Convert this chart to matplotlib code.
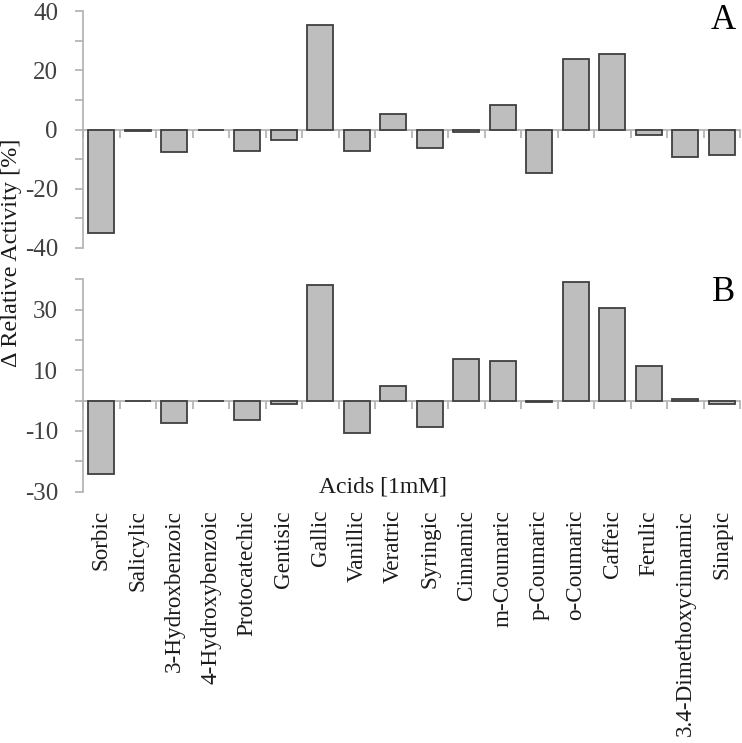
import matplotlib
matplotlib.use("Agg")
import matplotlib.pyplot as plt
import matplotlib.transforms as mtransforms
from matplotlib.ticker import MultipleLocator, FixedLocator

plt.rcParams['font.family'] = ['Liberation Serif', 'DejaVu Serif']
plt.rcParams['axes.unicode_minus'] = False

acids = ["Sorbic", "Salicylic", "3-Hydroxbenzoic", "4-Hydroxybenzoic",
         "Protocatechic", "Gentisic", "Gallic", "Vanillic", "Veratric",
         "Syringic", "Cinnamic", "m-Coumaric", "p-Coumaric", "o-Coumaric",
         "Caffeic", "Ferulic", "3.4-Dimethoxycinnamic", "Sinapic"]

# panel A
act_a = [-35.1, -0.5, -7.6, 0.0, -7.1, -3.5, 35.2, -7.3, 5.4,
         -6.2, -0.9, 8.4, -14.7, 23.8, 25.6, -1.9, -9.3, -8.6]
# panel B
act_b = [-24.1, -0.3, -7.5, 0.0, -6.3, -1.0, 38.0, -10.8, 4.9,
         -8.8, 13.8, 13.2, -0.5, 39.1, 30.5, 11.5, 0.5, -1.2]

bar_fill = '#bebebe'
bar_edge = '#3f3f3f'
axis_col = '#b0b0b0'
text_col = '#404040'

fig = plt.figure(figsize=(7.42, 7.43), dpi=100)
W, H = 742, 743
left, right = 83 / W, 740 / W
ax1 = fig.add_axes([left, 1 - 248 / H, right - left, (248 - 11) / H])
ax2 = fig.add_axes([left, 1 - 491.5 / H, right - left, (491.5 - 279.3) / H])

x = list(range(len(acids)))


def style(ax, vals, lo, hi, major0, letter, ly):
    ax.bar(x, vals, width=0.70, color=bar_fill, edgecolor=bar_edge,
           linewidth=1.3, zorder=3)
    ax.set_xlim(-0.5, len(acids) - 0.5)
    ax.set_ylim(lo, hi)
    for s in ['top', 'right']:
        ax.spines[s].set_visible(False)
    ax.spines['bottom'].set_position(('data', 0))
    ax.spines['bottom'].set_color(axis_col)
    ax.spines['left'].set_color(axis_col)
    ax.spines['bottom'].set_linewidth(1.2)
    ax.spines['left'].set_linewidth(1.2)
    ax.spines['bottom'].set_zorder(1)
    ax.xaxis.set_major_locator(FixedLocator([i - 0.5 for i in range(len(acids) + 1)]))
    ax.tick_params(axis='x', which='major', direction='out', length=6,
                   color=axis_col, width=1.2, labelbottom=False)
    ax.yaxis.set_major_locator(FixedLocator(list(range(major0, hi + 1, 20))))
    ax.yaxis.set_minor_locator(MultipleLocator(10))
    ax.tick_params(axis='y', which='both', direction='out', length=6,
                   color=axis_col, width=1.2, labelsize=18, labelcolor=text_col,
                   pad=12)
    ax.text(0.975, ly, letter, transform=ax.transAxes,
            ha='center', va='center', fontsize=25, color='black')


style(ax1, act_a, -40, 40, -40, 'A', 0.962)
style(ax2, act_b, -30, 40, -30, 'B', 0.94)

trans = mtransforms.blended_transform_factory(ax2.transData, fig.transFigure)
for i, name in enumerate(acids):
    ax2.text(i, 1 - 510 / H, name, transform=trans, rotation=90,
             ha='center', va='top', fontsize=16.7, color='#1a1a1a')

fig.text(383 / W, 1 - 487 / H, "Acids [1mM]", ha='center', va='center',
         fontsize=17, color='#1a1a1a')
fig.text(12 / W, 1 - 253 / H, "\u0394 Relative Activity [%]", rotation=90,
         ha='center', va='center', fontsize=17.5, color='#1a1a1a')

fig.savefig("out.png", dpi=100)
